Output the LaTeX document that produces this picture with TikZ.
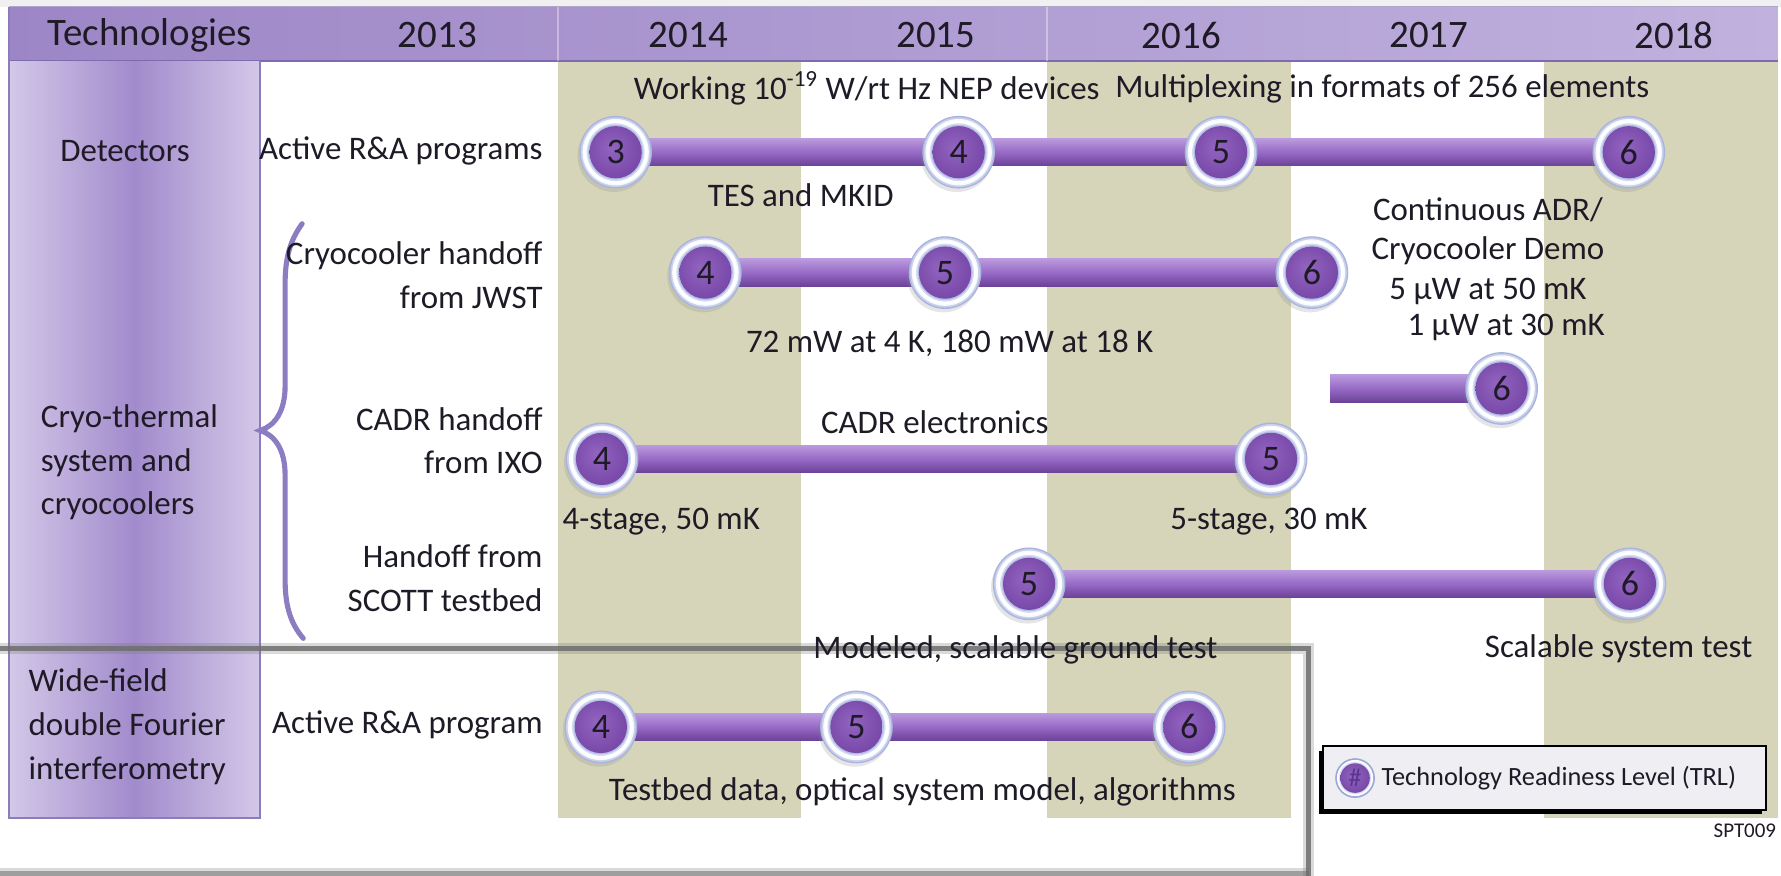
\documentclass[tikz,border=0pt]{standalone}
\usepackage{fontspec}
\setmainfont{Carlito}
\usetikzlibrary{calc,shadows}
\definecolor{bandcol}{HTML}{D6D5B9}
\definecolor{txtcol}{HTML}{1E1A26}
\definecolor{hdrL}{HTML}{9D86C6}
\definecolor{hdrR}{HTML}{C0B1DE}
\definecolor{hdrLine}{HTML}{7E6AAE}
\definecolor{colEdge}{HTML}{D3C8E8}
\definecolor{colMid}{HTML}{A28BCC}
\definecolor{colLine}{HTML}{8D7CBC}
\definecolor{barTop}{HTML}{BA9ADE}
\definecolor{barMid}{HTML}{976AC6}
\definecolor{barBot}{HTML}{6C4298}
\definecolor{ringIn}{HTML}{B4BFE6}
\definecolor{ringOut}{HTML}{9AA7D8}
\definecolor{ballC}{HTML}{9264C0}
\definecolor{ballM}{HTML}{7848A8}
\definecolor{ballE}{HTML}{4E2779}
\definecolor{braceCol}{HTML}{8C7CC2}
\definecolor{boxLine}{HTML}{6E6E6E}
\definecolor{legFill}{HTML}{EEEEF3}
\definecolor{hashCol}{HTML}{5A3590}
\pgfdeclareradialshading{ballshade}{\pgfpoint{-5bp}{5bp}}{color(0bp)=(ballC); color(28bp)=(ballM); color(50bp)=(ballE)}
\pgfdeclarelayer{bg}
\pgfdeclarelayer{bars}
\pgfsetlayers{bg,bars,main}
\tikzset{
  lbl/.style={font=\fontsize{16.5}{22}\selectfont, text=txtcol, inner sep=0pt},
  annot/.style={font=\fontsize{16.5}{19.8}\selectfont, text=txtcol, inner sep=0pt},
  hdr/.style={font=\fontsize{19.5}{22}\selectfont, text=txtcol, inner sep=0pt},
  trl/.style={circle, minimum size=1.28cm, inner sep=0pt, fill=ringOut!85!white,
     drop shadow={opacity=0.2, shadow xshift=-0.03cm, shadow yshift=-0.06cm},
     path picture={
       \coordinate (pc) at (path picture bounding box.center);
       \fill[ringOut!55!white] (pc) circle (0.615cm);
       \fill[white!90!ringIn] (pc) circle (0.585cm);
       \fill[white] (pc) circle (0.56cm);
       \fill[ringIn!55!white] (pc) circle (0.51cm);
       \fill[ringIn] (pc) circle (0.485cm);
       \shade[shading=ballshade] (pc) circle (0.46cm);},
     font=\fontsize{18}{18}\selectfont, text=txtcol},
  trlS/.style={circle, minimum size=0.7cm, inner sep=0pt, fill=ringOut,
     path picture={
       \coordinate (pc) at (path picture bounding box.center);
       \fill[white!92!ringIn] (pc) circle (0.32cm);
       \fill[ringIn!60!white] (pc) circle (0.28cm);
       \shade[shading=ballshade] (pc) circle (0.26cm);},
     font=\fontsize{13}{13}\selectfont, text=hashCol},
  barsh/.style={top color=barTop, bottom color=barBot, middle color=barMid},
  grayline/.style={boxLine, line width=0.1cm, opacity=0.85},
  grayglow/.style={boxLine, line width=0.2cm, opacity=0.25}
}
\begin{document}
\begin{tikzpicture}[x=0.02cm,y=-0.02cm]
\useasboundingbox (0,0) rectangle (1568,771);

% ---------- header texts ----------
\node[hdr] (hTech) at (132,31) {Technologies};
\node[hdr] (h13) at (385,31) {2013};
\node[hdr] (h14) at (606,31) {2014};
\node[hdr] (h15) at (824,31) {2015};
\node[hdr] (h16) at (1040,31) {2016};
\node[hdr] (h17) at (1258,31) {2017};
\node[hdr] (h18) at (1474,31) {2018};

% ---------- left column ----------
\node[lbl] (tDet) at (110,133) {Detectors};
\node[lbl, align=left] (tCryo) at (114,407) {Cryo-thermal\\system and\\cryocoolers};
\node[lbl, align=left] (tWide) at (112,640) {Wide-field\\double Fourier\\interferometry};

% ---------- second column ----------
\node[lbl, anchor=east] (sDet) at (478,133) {Active R\&A programs};
\node[lbl, anchor=east, align=right] (sJWST) at (478,242) {Cryocooler handoff\\from JWST};
\node[lbl, anchor=east, align=right] (sIXO) at (478,388) {CADR handoff\\from IXO};
\node[lbl, anchor=east, align=right] (sSCOTT) at (478,509) {Handoff from\\SCOTT testbed};
\node[lbl, anchor=east] (sWide) at (478,638) {Active R\&A program};

% ---------- TRL markers ----------
\node[trl] (r1a) at (542,134) {3};
\node[trl] (r1b) at (844,134) {4};
\node[trl] (r1c) at (1075,134) {5};
\node[trl] (r1d) at (1434,134) {6};

\node[trl] (r2a) at (621,240) {4};
\node[trl] (r2b) at (832,240) {5};
\node[trl] (r2c) at (1155,240) {6};

\coordinate (r3s) at (1171,342);
\node[trl] (r3a) at (1322,342) {6};

\node[trl] (r4a) at (530,404) {4};
\node[trl] (r4b) at (1119,404) {5};

\node[trl] (r5a) at (906,514) {5};
\node[trl] (r5b) at (1435,514) {6};

\node[trl] (r6a) at (529,640) {4};
\node[trl] (r6b) at (754,640) {5};
\node[trl] (r6c) at (1047,640) {6};

% ---------- annotations ----------
\node[lbl] (aNEP) at (763,78) {Working 10\textsuperscript{-19} W/rt Hz NEP devices};
\node[lbl] (aMux) at (1217,78) {Multiplexing in formats of 256 elements};
\node[lbl] (aTES) at (705,172) {TES and MKID};
\node[annot, align=center] (aADR) at (1310,221) {Continuous ADR/\\Cryocooler Demo\\5 μW at 50 mK};
\node[lbl] (aADR2) at (1326,288) {1 μW at 30 mK};
\node[lbl] (a72) at (836,302) {72 mW at 4 K, 180 mW at 18 K};
\node[lbl] (aCADR) at (823,372) {CADR electronics};
\node[lbl, anchor=west] (a4st) at (495,459) {4-stage, 50 mK};
\node[lbl, anchor=west] (a5st) at (1030,459) {5-stage, 30 mK};
\node[lbl] (aMod) at (894,572) {Modeled, scalable ground test};
\node[lbl] (aScal) at (1425,571) {Scalable system test};
\node[lbl] (aTest) at (812,697) {Testbed data, optical system model, algorithms};

% ---------- legend ----------
\node[draw=black, line width=0.03cm, fill=legFill, minimum width=7.8cm, minimum height=1.12cm, inner sep=0pt,
      drop shadow={shadow xshift=-0.08cm, shadow yshift=-0.08cm, opacity=1, fill=black}] (leg) at (1360,685) {};
\node[trlS] (legC) at (1193,685) {\#};
\node[font=\fontsize{13.2}{14}\selectfont, text=txtcol, inner sep=0pt, anchor=west] (legT) at (1216,685) {Technology Readiness Level (TRL)};
\node[font=\fontsize{10.5}{12}\selectfont, text=txtcol, inner sep=0pt, anchor=east] (spt) at (1564,731) {SPT009};

% ---------- bars ----------
\begin{pgfonlayer}{bars}
  \shade[barsh] ($(r1a.center)+(0,-12)$) rectangle ($(r1d.center)+(0,12)$);
  \shade[barsh] ($(r2a.center)+(0,-12)$) rectangle ($(r2c.center)+(0,12)$);
  \shade[barsh] ($(r3s)+(0,-12)$) rectangle ($(r3a.center)+(0,12)$);
  \shade[barsh] ($(r4a.center)+(0,-12)$) rectangle ($(r4b.center)+(0,12)$);
  \shade[barsh] ($(r5a.center)+(0,-12)$) rectangle ($(r5b.center)+(0,12)$);
  \shade[barsh] ($(r6a.center)+(0,-12)$) rectangle ($(r6c.center)+(0,12)$);
\end{pgfonlayer}

% ---------- background ----------
\begin{pgfonlayer}{bg}
  \fill[white] (0,0) rectangle (1568,771);
  \fill[black!6] (0,0) rectangle (1568,6);
  \fill[bandcol] (491,54) rectangle (705,720);
  \fill[bandcol] (922,54) rectangle (1137,720);
  \fill[bandcol] (1359,54) rectangle (1565,720);
  \shade[left color=hdrL, right color=hdrR] (8,6) rectangle (1565,54);
  \draw[hdrLine, line width=0.03cm] (8,54) -- (1565,54);
  \draw[hdrLine!60, line width=0.02cm] (8,6) -- (1565,6);
  \draw[white, opacity=0.35, line width=0.03cm] (491,6) -- (491,54);
  \draw[white, opacity=0.35, line width=0.03cm] (922,6) -- (922,54);
  \shade[left color=colEdge, right color=colEdge, middle color=colMid] (8,54) rectangle (229,720);
  \draw[colLine, line width=0.03cm] (8,6) -- (8,720) -- (229,720) -- (229,54);
  % brace
  \draw[braceCol, line width=0.09cm, line cap=round]
    (266,197) .. controls (255,212) and (251,228) .. (251,250) -- (251,340)
    .. controls (251,362) and (242,375) .. (229,379)
    .. controls (242,383) and (251,396) .. (251,418) -- (251,510)
    .. controls (251,532) and (255,548) .. (267,562);
  % gray outline
  \draw[grayglow] (-10,571) -- (1152,571) -- (1152,780);
  \draw[grayglow] (-10,769) -- (1152,769);
  \draw[grayline] (-10,571) -- (1152,571) -- (1152,780);
  \draw[grayline, opacity=0.55] (-10,769) -- (1152,769);
\end{pgfonlayer}
\end{tikzpicture}
\end{document}
